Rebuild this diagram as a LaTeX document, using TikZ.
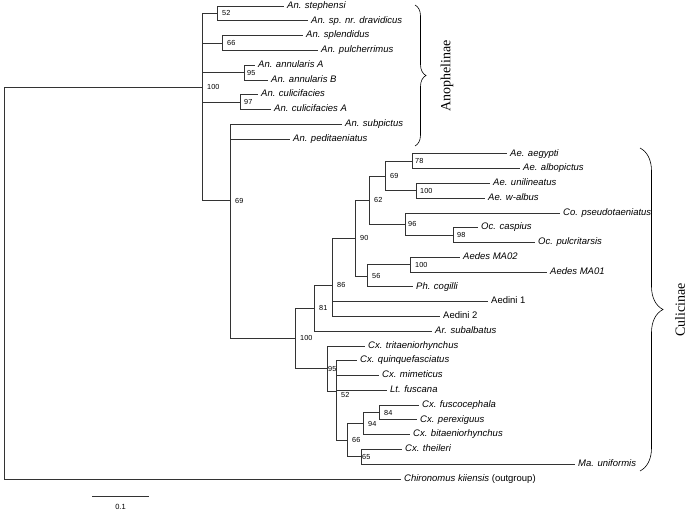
\documentclass[tikz,border=0pt]{standalone}
\usepackage{fontspec}
\setmainfont{Liberation Sans}
\newfontfamily\cladefont{Liberation Serif}
\usetikzlibrary{decorations.pathreplacing}

\begin{document}
\begin{tikzpicture}[x=1pt,y=-1pt,
   br/.style={line width=0.75pt,draw=black!80},
   leaf/.style={anchor=west,inner xsep=3pt,inner ysep=0pt,text height=6.5pt,text depth=2pt,
     font=\fontsize{9.5}{11}\selectfont\itshape},
   bs/.style={anchor=west,inner sep=0pt,xshift=5pt,font=\fontsize{7.3}{8}\selectfont},
   brc/.style={decorate,decoration={brace,amplitude=#1},line width=0.6pt},
   clade/.style={rotate=90,font=\cladefont\fontsize{14}{16}\selectfont}]
  \useasboundingbox (0,0) rectangle (688,513);

  % leaves
  \node[leaf] (steph) at (284,6) {An. stephensi};
  \node[leaf] (drav)  at (308,20.8) {An. sp. nr. dravidicus};
  \node[leaf] (splen) at (303,35.6) {An. splendidus};
  \node[leaf] (pulch) at (318,50.3) {An. pulcherrimus};
  \node[leaf] (annA)  at (255,65.1) {An. annularis A};
  \node[leaf] (annB)  at (268,79.9) {An. annularis B};
  \node[leaf] (culi)  at (258,94.7) {An. culicifacies};
  \node[leaf] (culiA) at (271,109.5) {An. culicifacies A};
  \node[leaf] (subp)  at (342,124.2) {An. subpictus};
  \node[leaf] (pedi)  at (290,139) {An. peditaeniatus};
  \node[leaf] (aegy)  at (507,153.8) {Ae. aegypti};
  \node[leaf] (albo)  at (520,168.6) {Ae. albopictus};
  \node[leaf] (unil)  at (490,183.4) {Ae. unilineatus};
  \node[leaf] (walb)  at (485,198.1) {Ae. w-albus};
  \node[leaf] (pseu)  at (560,212.9) {Co. pseudotaeniatus};
  \node[leaf] (casp)  at (478,227.7) {Oc. caspius};
  \node[leaf] (pulc)  at (535,242.5) {Oc. pulcritarsis};
  \node[leaf] (ma02)  at (460,257.3) {Aedes MA02};
  \node[leaf] (ma01)  at (547,272) {Aedes MA01};
  \node[leaf] (cogi)  at (413,286.8) {Ph. cogilli};
  \node[leaf] (aed1)  at (488,301.6) {\upshape Aedini 1};
  \node[leaf] (aed2)  at (440,316.4) {\upshape Aedini 2};
  \node[leaf] (suba)  at (432,331.2) {Ar. subalbatus};
  \node[leaf] (trit)  at (365,345.9) {Cx. tritaeniorhynchus};
  \node[leaf] (quin)  at (357,360.7) {Cx. quinquefasciatus};
  \node[leaf] (mime)  at (379,375.5) {Cx. mimeticus};
  \node[leaf] (fusc)  at (387,390.3) {Lt. fuscana};
  \node[leaf] (fuco)  at (419,405.1) {Cx. fuscocephala};
  \node[leaf] (pere)  at (417,419.8) {Cx. perexiguus};
  \node[leaf] (bita)  at (410,434.6) {Cx. bitaeniorhynchus};
  \node[leaf] (thei)  at (402,449.4) {Cx. theileri};
  \node[leaf] (unif)  at (575,464.2) {Ma. uniformis};
  \node[leaf] (chir)  at (401,479) {Chironomus kiiensis \upshape(outgroup)};

  % internal nodes
  \coordinate (root)  at (4,283);
  \coordinate (n100a) at (202,87);
  \coordinate (n52a)  at (217,13.4);
  \coordinate (n66a)  at (222,43);
  \coordinate (n95a)  at (244,72.5);
  \coordinate (n97)   at (240,102.1);
  \coordinate (n69a)  at (230,200.5);
  \coordinate (nCul)  at (295,338.4);
  \coordinate (n81)   at (314,308.2);
  \coordinate (n86)   at (332,285.3);
  \coordinate (n90)   at (355,238);
  \coordinate (n62)   at (369,200);
  \coordinate (n69b)  at (385,176);
  \coordinate (n78)   at (412,161.2);
  \coordinate (n100b) at (416,190.8);
  \coordinate (n96)   at (405,224);
  \coordinate (n98)   at (453,235.1);
  \coordinate (n56)   at (367,276);
  \coordinate (n100c) at (410,264.7);
  \coordinate (n95c)  at (327,368.8);
  \coordinate (n52c)  at (336,391.6);
  \coordinate (n66c)  at (347,440);
  \coordinate (n94)   at (363,423.5);
  \coordinate (n84)   at (379,412.5);
  \coordinate (n65)   at (361,456.8);

  % branches
  \draw[br] (root) |- (n100a) (root) |- (chir.west);
  \draw[br] (n100a) |- (n52a) (n100a) |- (n66a) (n100a) |- (n95a) (n100a) |- (n97) (n100a) |- (n69a);
  \draw[br] (n52a) |- (steph.west) (n52a) |- (drav.west);
  \draw[br] (n66a) |- (splen.west) (n66a) |- (pulch.west);
  \draw[br] (n95a) |- (annA.west) (n95a) |- (annB.west);
  \draw[br] (n97) |- (culi.west) (n97) |- (culiA.west);
  \draw[br] (n69a) |- (subp.west) (n69a) |- (pedi.west) (n69a) |- (nCul);
  \draw[br] (nCul) |- (n81) (nCul) |- (n95c);
  \draw[br] (n81) |- (n86) (n81) |- (suba.west);
  \draw[br] (n86) |- (n90) (n86) |- (aed1.west) (n86) |- (aed2.west);
  \draw[br] (n90) |- (n62) (n90) |- (n56);
  \draw[br] (n62) |- (n69b) (n62) |- (n96);
  \draw[br] (n69b) |- (n78) (n69b) |- (n100b);
  \draw[br] (n78) |- (aegy.west) (n78) |- (albo.west);
  \draw[br] (n100b) |- (unil.west) (n100b) |- (walb.west);
  \draw[br] (n96) |- (pseu.west) (n96) |- (n98);
  \draw[br] (n98) |- (casp.west) (n98) |- (pulc.west);
  \draw[br] (n56) |- (n100c) (n56) |- (cogi.west);
  \draw[br] (n100c) |- (ma02.west) (n100c) |- (ma01.west);
  \draw[br] (n95c) |- (trit.west) (n95c) |- (n52c);
  \draw[br] (n52c) |- (quin.west) (n52c) |- (mime.west) (n52c) |- (fusc.west) (n52c) |- (n66c);
  \draw[br] (n66c) |- (n94) (n66c) |- (n65);
  \draw[br] (n94) |- (n84) (n94) |- (bita.west);
  \draw[br] (n84) |- (fuco.west) (n84) |- (pere.west);
  \draw[br] (n65) |- (thei.west) (n65) |- (unif.west);

  % bootstrap values
  \node[bs] (b100a) at (n100a) {100};
  \node[bs] (b52a)  at (n52a) {52};
  \node[bs] (b66a)  at (n66a) {66};
  \node[bs,xshift=-2pt] (b95a) at (n95a) {95};
  \node[bs,xshift=-1pt] (b97)  at (n97) {97};
  \node[bs] (b69a)  at (n69a) {69};
  \node[bs] (bCul)  at (nCul) {100};
  \node[bs] (b81)   at (n81) {81};
  \node[bs] (b86)   at (n86) {86};
  \node[bs] (b90)   at (n90) {90};
  \node[bs] (b62)   at (n62) {62};
  \node[bs] (b69b)  at (n69b) {69};
  \node[bs,xshift=-2pt] (b78)  at (n78) {78};
  \node[bs,xshift=-1pt] (b100b) at (n100b) {100};
  \node[bs,xshift=-2pt] (b96)  at (n96) {96};
  \node[bs,xshift=-1pt] (b98)  at (n98) {98};
  \node[bs] (b56)   at (n56) {56};
  \node[bs] (b100c) at (n100c) {100};
  \node[bs,xshift=-4pt] (b95c) at (n95c) {95};
  \node[bs,yshift=-3pt] (b52c) at (n52c) {52};
  \node[bs] (b66c)  at (n66c) {66};
  \node[bs] (b94)   at (n94) {94};
  \node[bs] (b84)   at (n84) {84};
  \node[bs,xshift=-4pt] (b65) at (n65) {65};

  % clade braces
  \coordinate (anoTop) at (415,5);
  \coordinate (anoBot) at (415,146);
  \draw[brc=11pt] (anoTop) -- (anoBot);
  \node[clade] (anoLab) at (447,76) {Anophelinae};
  \coordinate (culTop) at (640,148);
  \coordinate (culBot) at (640,471);
  \draw[brc=23pt] (culTop) -- (culBot);
  \node[clade] (culLab) at (680,310) {Culicinae};

  % scale bar
  \coordinate (sbL) at (92,496);
  \coordinate (sbR) at (149,496);
  \draw[br] (sbL) -- (sbR);
  \node[font=\fontsize{7.5}{9}\selectfont] (sbLab) at (120.5,507) {0.1};
\end{tikzpicture}
\end{document}
